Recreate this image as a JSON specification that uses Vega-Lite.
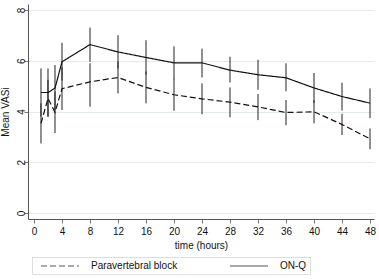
{
  "$schema": "https://vega.github.io/schema/vega-lite/v6.json",
  "width": 346,
  "height": 215,
  "autosize": "none",
  "padding": {"left": 28, "top": 4, "right": 5, "bottom": 60},
  "background": "white",
  "data": {
    "values": [
      {"t": 1, "group": "ON-Q", "mean": 4.75, "lo": 3.80, "hi": 5.70},
      {"t": 2, "group": "ON-Q", "mean": 4.75, "lo": 3.80, "hi": 5.70},
      {"t": 3, "group": "ON-Q", "mean": 4.92, "lo": 4.05, "hi": 5.83},
      {"t": 4, "group": "ON-Q", "mean": 5.96, "lo": 5.22, "hi": 6.71},
      {"t": 8, "group": "ON-Q", "mean": 6.64, "lo": 5.96, "hi": 7.31},
      {"t": 12, "group": "ON-Q", "mean": 6.35, "lo": 5.69, "hi": 7.01},
      {"t": 16, "group": "ON-Q", "mean": 6.13, "lo": 5.45, "hi": 6.81},
      {"t": 20, "group": "ON-Q", "mean": 5.92, "lo": 5.27, "hi": 6.57},
      {"t": 24, "group": "ON-Q", "mean": 5.92, "lo": 5.34, "hi": 6.48},
      {"t": 28, "group": "ON-Q", "mean": 5.63, "lo": 5.14, "hi": 6.16},
      {"t": 32, "group": "ON-Q", "mean": 5.45, "lo": 4.86, "hi": 6.04},
      {"t": 36, "group": "ON-Q", "mean": 5.33, "lo": 4.80, "hi": 5.90},
      {"t": 40, "group": "ON-Q", "mean": 4.93, "lo": 4.34, "hi": 5.52},
      {"t": 44, "group": "ON-Q", "mean": 4.59, "lo": 4.04, "hi": 5.14},
      {"t": 48, "group": "ON-Q", "mean": 4.33, "lo": 3.74, "hi": 4.91},
      {"t": 1, "group": "Paravertebral block", "mean": 3.53, "lo": 2.74, "hi": 4.32},
      {"t": 2, "group": "Paravertebral block", "mean": 4.52, "lo": 3.79, "hi": 5.25},
      {"t": 3, "group": "Paravertebral block", "mean": 3.97, "lo": 3.15, "hi": 4.79},
      {"t": 4, "group": "Paravertebral block", "mean": 4.90, "lo": 4.06, "hi": 5.74},
      {"t": 8, "group": "Paravertebral block", "mean": 5.17, "lo": 4.19, "hi": 5.90},
      {"t": 12, "group": "Paravertebral block", "mean": 5.34, "lo": 4.71, "hi": 5.97},
      {"t": 16, "group": "Paravertebral block", "mean": 4.95, "lo": 4.32, "hi": 5.58},
      {"t": 20, "group": "Paravertebral block", "mean": 4.66, "lo": 4.03, "hi": 5.29},
      {"t": 24, "group": "Paravertebral block", "mean": 4.50, "lo": 3.89, "hi": 5.11},
      {"t": 28, "group": "Paravertebral block", "mean": 4.37, "lo": 3.77, "hi": 4.95},
      {"t": 32, "group": "Paravertebral block", "mean": 4.18, "lo": 3.66, "hi": 4.69},
      {"t": 36, "group": "Paravertebral block", "mean": 3.96, "lo": 3.46, "hi": 4.45},
      {"t": 40, "group": "Paravertebral block", "mean": 3.99, "lo": 3.53, "hi": 4.45},
      {"t": 44, "group": "Paravertebral block", "mean": 3.49, "lo": 3.07, "hi": 3.91},
      {"t": 48, "group": "Paravertebral block", "mean": 2.92, "lo": 2.51, "hi": 3.33}
    ]
  },
  "encoding": {
    "x": {
      "field": "t",
      "type": "quantitative",
      "title": "time (hours)",
      "scale": {"domain": [-0.857, 48.57], "nice": false, "zero": false},
      "axis": {
        "values": [0, 4, 8, 12, 16, 20, 24, 28, 32, 36, 40, 44, 48],
        "grid": false,
        "labelPadding": 3,
        "titleY": 26,
        "titleBaseline": "middle"
      }
    }
  },
  "layer": [
    {
      "mark": {"type": "rule", "color": "#222222", "strokeWidth": 1},
      "encoding": {
        "y": {
          "field": "lo",
          "type": "quantitative",
          "title": "Mean VASi",
          "scale": {"domain": [-0.24, 8.24], "nice": false, "zero": false},
          "axis": {
            "values": [0, 2, 4, 6, 8],
            "grid": true,
            "gridColor": "#e3ebef",
            "labelAngle": -90,
            "labelAlign": "center",
            "labelBaseline": "alphabetic",
            "labelPadding": 0,
            "titleX": -23,
            "titleBaseline": "middle"
          }
        },
        "y2": {"field": "hi"},
        "detail": {"field": "group"}
      }
    },
    {
      "mark": {"type": "line", "color": "#111111", "strokeWidth": 1.2},
      "encoding": {
        "y": {"field": "mean", "type": "quantitative"},
        "strokeDash": {
          "field": "group",
          "type": "nominal",
          "scale": {
            "domain": ["Paravertebral block", "ON-Q"],
            "range": [[6, 3], [1, 0]]
          },
          "legend": {
            "title": null,
            "orient": "none",
            "legendX": 4,
            "legendY": 253,
            "direction": "horizontal",
            "columns": 2,
            "gridAlign": "each",
            "columnPadding": 46,
            "padding": 3,
            "fillColor": "white",
            "strokeColor": "#dddddd",
            "symbolType": "M0,0H7.6",
            "symbolSize": 100,
            "symbolStrokeWidth": 1.2,
            "symbolStrokeColor": "#555555",
            "labelOffset": 44,
            "labelExpr": "datum.label == 'ON-Q' ? pad(datum.label, 26, '\u00a0') : datum.label",
            "labelFont": "Liberation Sans",
            "labelFontSize": 10,
            "labelColor": "#111111"
          }
        }
      }
    }
  ],
  "config": {
    "view": {"stroke": null},
    "font": "Liberation Sans",
    "axis": {
      "domainColor": "#555555",
      "tickColor": "#777777",
      "tickSize": 4,
      "labelFont": "Liberation Sans",
      "labelFontSize": 10,
      "labelColor": "#111111",
      "titleFont": "Liberation Sans",
      "titleFontSize": 10,
      "titleFontWeight": "normal",
      "titleColor": "#111111"
    }
  }
}
